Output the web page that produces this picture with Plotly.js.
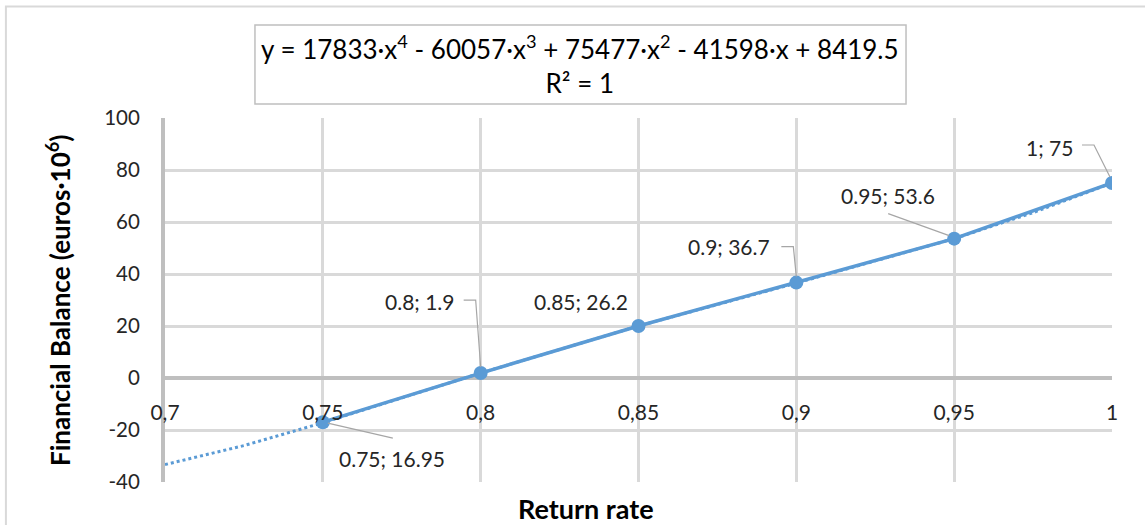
<!DOCTYPE html>
<html>
<head>
<meta charset="utf-8">
<script src="https://cdn.plot.ly/plotly-3.0.1.min.js"></script>
<style>html,body{margin:0;padding:0;background:#fff;}#chart{width:1145px;height:525px;}</style>
</head>
<body>
<div id="chart"></div>
<script>
// Data
const returnRate = [0.75, 0.8, 0.85, 0.9, 0.95, 1];
const balance = [-17, 1.9, 20, 36.7, 53.6, 75];
const pointLabels = ["0.75; 16.95", "0.8; 1.9", "0.85; 26.2", "0.9; 36.7", "0.95; 53.6", "1; 75"];
// Polynomial trendline as drawn
const trendX = [0.7, 0.725, 0.75, 0.8, 0.85, 0.9, 0.95, 0.975, 1];
const trendY = [-33.3, -26, -17.2, 1.9, 20, 36.5, 53.6, 63.6, 75];
const xTickVals = [0.7, 0.75, 0.8, 0.85, 0.9, 0.95, 1];
const xTickText = ["0,7", "0,75", "0,8", "0,85", "0,9", "0,95", "1"];
const yTickVals = [-40, -20, 0, 20, 40, 60, 80, 100];
const yTickText = ["-40", "-20", "0", "20", "40", "60", "80", "100"];
const equationText = "y = 17833·x<sup>4</sup> - 60057·x<sup>3</sup> + 75477·x<sup>2</sup> - 41598·x + 8419.5<br>R² = 1";
const xTitle = "Return rate";
const yTitle = "Financial Balance (euros·10<sup>6</sup>)";

const FONT = "Lato, 'Open Sans', sans-serif";
const BLUE = "#5b9bd5";

// label offsets (px) from each point, and leader-line paths (px, y up) relative to each point
const labelShift = [[69, -36], [-61, 72], [-58, 25], [-67, 36], [-66, 43], [-63, 36]];
const leaders = [
  "M 5,-1 L 70,-16",
  "M -17,73 L -5,73 L 0,6",
  null,
  "M -15,36 L -3,36 L 0,6",
  "M -66,25 L -5,3",
  "M -30,38 L -18,38 L -2,6"
];

const traces = [
  {
    x: trendX, y: trendY, type: "scatter", mode: "lines",
    line: {color: BLUE, width: 3, dash: "dot"}, hoverinfo: "skip", showlegend: false
  },
  {
    x: returnRate, y: balance, type: "scatter", mode: "lines+markers",
    line: {color: BLUE, width: 3.5},
    marker: {color: BLUE, size: 14},
    showlegend: false
  }
];

const annotations = returnRate.map((xv, i) => ({
  x: xv, y: balance[i], xref: "x", yref: "y",
  xanchor: "center", yanchor: "middle",
  text: pointLabels[i], showarrow: false,
  xshift: labelShift[i][0], yshift: labelShift[i][1],
  font: {family: FONT, size: 21, color: "#262626"}
}));

annotations.push({
  xref: "paper", yref: "paper", x: 0.4446, y: -0.072,
  xanchor: "center", yanchor: "middle",
  text: "<b>" + xTitle + "</b>", showarrow: false,
  font: {family: FONT, size: 27, color: "#000"}
});
annotations.push({
  xref: "paper", yref: "paper", x: -0.113, y: 0.5,
  xanchor: "center", yanchor: "middle",
  text: "<b>" + yTitle + "</b>", showarrow: false, textangle: -90,
  font: {family: FONT, size: 26, color: "#000"}
});
annotations.push({
  xref: "paper", yref: "paper", x: 0.4385, y: 1.147,
  xanchor: "center", yanchor: "middle",
  text: equationText, showarrow: false,
  font: {family: FONT, size: 26, color: "#000"}
});

const shapes = [
  // outer chart frame
  {type: "rect", xref: "paper", yref: "paper", x0: -0.168, x1: 1.05, y0: -0.3, y1: 1.306,
   line: {color: "#d9d9d9", width: 2}, layer: "below"},
  // equation box
  {type: "rect", xref: "paper", yref: "paper", x0: 0.095, x1: 0.7825, y0: 1.0385, y1: 1.2555,
   line: {color: "#bfbfbf", width: 1.5}, fillcolor: "#fff"}
];
leaders.forEach((p, i) => {
  if (!p) return;
  shapes.push({
    type: "path", xref: "x", yref: "y",
    xsizemode: "pixel", ysizemode: "pixel",
    xanchor: returnRate[i], yanchor: balance[i],
    path: p, line: {color: "#a6a6a6", width: 1.2}
  });
});

const layout = {
  width: 1145, height: 525,
  margin: {l: 165, r: 33, t: 118, b: 43, pad: 0},
  paper_bgcolor: "#fff", plot_bgcolor: "#fff",
  showlegend: false,
  xaxis: {
    range: [0.7, 1], tickvals: xTickVals, ticktext: xTickText,
    anchor: "free", position: 40 / 140,
    showgrid: true, gridcolor: "#d9d9d9", gridwidth: 3,
    zeroline: false, showline: false,
    ticks: "outside", ticklen: 16, tickcolor: "rgba(0,0,0,0)",
    tickfont: {family: FONT, size: 21, color: "#262626"}
  },
  yaxis: {
    range: [-40, 100], tickvals: yTickVals, ticktext: yTickText,
    showgrid: true, gridcolor: "#d9d9d9", gridwidth: 3,
    zeroline: true, zerolinecolor: "#bfbfbf", zerolinewidth: 4,
    showline: true, linecolor: "#bfbfbf", linewidth: 4,
    ticks: "outside", ticklen: 17, tickcolor: "rgba(0,0,0,0)",
    tickfont: {family: FONT, size: 20.5, color: "#262626"}
  },
  annotations: annotations,
  shapes: shapes
};

Plotly.newPlot("chart", traces, layout, {displayModeBar: false, staticPlot: true});
</script>
</body>
</html>
